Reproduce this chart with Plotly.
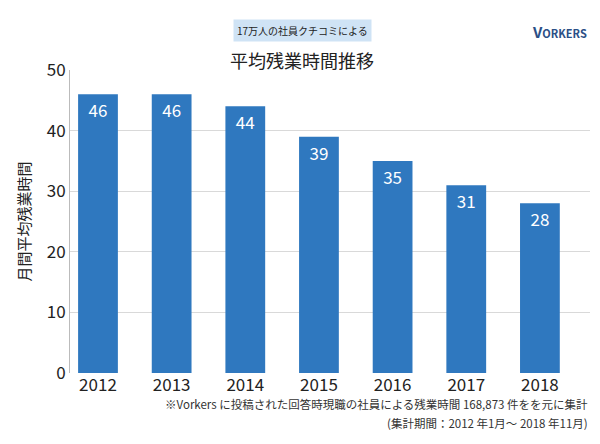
import plotly.graph_objects as go

years = ["2012", "2013", "2014", "2015", "2016", "2017", "2018"]
hours = [46, 46, 44, 39, 35, 31, 28]
yticks = [0, 10, 20, 30, 40, 50]

F = "Noto Sans CJK JP"
fig = go.Figure(go.Bar(
    x=list(range(len(years))), y=hours, text=[str(v) for v in hours],
    textposition="inside", insidetextanchor="end",
    textfont=dict(color="white", size=17, family=F),
    marker=dict(color="#2f78bf", line_width=0), width=0.54,
))
fig.update_layout(
    width=600, height=444, margin=dict(l=62, r=18, t=62, b=79),
    plot_bgcolor="white", paper_bgcolor="white", showlegend=False,
    font=dict(family=F, color="#222"),
    xaxis=dict(tickvals=list(range(len(years))), ticktext=years, range=[-0.38, 6.68],
               tickfont=dict(size=17), showline=False, ticks=""),
    yaxis=dict(range=[0, 50], tickvals=yticks, tickfont=dict(size=17),
               gridcolor="#d9d9d9", showline=True, linecolor="#bbb", zeroline=False,
               title=dict(text="月間平均残業時間", font=dict(size=15), standoff=12)),
)
def ann(x, y, text, size, **kw):
    fig.add_annotation(x=x, y=y, xref="paper", yref="paper", text=text, showarrow=False,
                       font=dict(size=size, family=F, color=kw.pop("color", "#222")), **kw)
def px(xp): return (xp-70)/520
def py(yp): return (373-yp)/303
ann(px(302), py(19), "17万人の社員クチコミによる", 10, bgcolor="#cfe3f5", borderpad=3)
ann(px(302), py(45), "平均残業時間推移", 18)
ann(px(589), py(19), "<b>V<span style='font-size:11px'>ORKERS</span></b>", 15, xanchor="right", color="#2b4f86")
ann(px(590), py(414), "※Vorkers に投稿された回答時現職の社員による残業時間 168,873 件をを元に集計", 11.5, xanchor="right", color="#333")
ann(px(590), py(433), "(集計期間：2012 年1月～ 2018 年11月)", 11.5, xanchor="right", color="#333")
fig.write_html("out.html")
